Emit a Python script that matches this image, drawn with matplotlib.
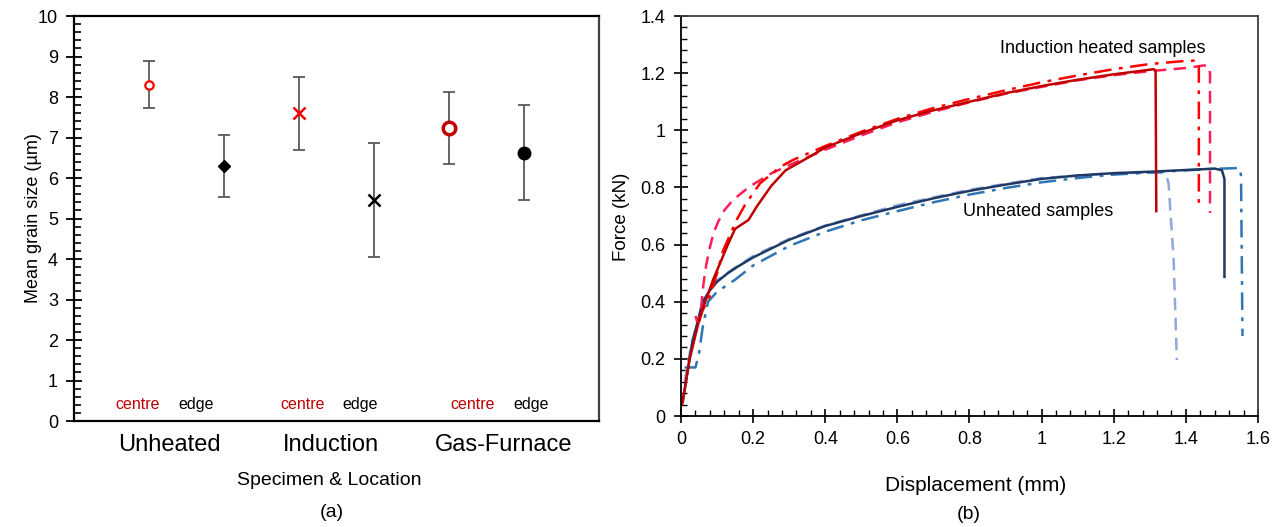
import matplotlib.pyplot as plt
from matplotlib.ticker import MultipleLocator

plt.rcParams['font.family'] = ['Liberation Sans', 'DejaVu Sans']

# (a) mean grain size
groups = ['Unheated', 'Induction', 'Gas-Furnace']
locations = ['centre', 'edge', 'centre', 'edge', 'centre', 'edge']
grain_mean = [8.30, 6.29, 7.60, 5.46, 7.23, 6.63]
grain_err = [0.58, 0.76, 0.90, 1.41, 0.89, 1.18]

# (b) force-displacement curves
red_solid_x = [0.003, 0.024, 0.053, 0.09, 0.13, 0.15, 0.17, 0.187, 0.21, 0.25, 0.29, 0.36, 0.4,
               0.5, 0.6, 0.7, 0.8, 0.9, 1.0, 1.1, 1.2, 1.3, 1.31, 1.316, 1.318]
red_solid_y = [0.04, 0.2, 0.35, 0.48, 0.6, 0.655, 0.672, 0.686, 0.733, 0.805, 0.86, 0.91, 0.94,
               0.99, 1.035, 1.07, 1.1, 1.13, 1.155, 1.177, 1.196, 1.212, 1.214, 1.21, 0.717]
red_dash_x = [0.04, 0.045, 0.05, 0.055, 0.062, 0.07, 0.08, 0.09, 0.103, 0.12, 0.145, 0.19, 0.25,
              0.3, 0.4, 0.5, 0.6, 0.7, 0.8, 0.9, 1.0, 1.1, 1.2, 1.3, 1.4, 1.45, 1.462, 1.467, 1.467]
red_dash_y = [0.35, 0.33, 0.34, 0.37, 0.46, 0.53, 0.59, 0.64, 0.68, 0.72, 0.757, 0.803, 0.849,
              0.878, 0.932, 0.982, 1.028, 1.065, 1.098, 1.128, 1.152, 1.175, 1.193, 1.207, 1.218,
              1.227, 1.225, 1.2, 0.711]
red_dd_x = [0.05, 0.06, 0.08, 0.1, 0.117, 0.154, 0.177, 0.219, 0.275, 0.31, 0.4, 0.5, 0.6, 0.7,
            0.8, 0.9, 1.0, 1.1, 1.2, 1.3, 1.4, 1.43, 1.436, 1.436]
red_dd_y = [0.33, 0.37, 0.42, 0.5, 0.58, 0.686, 0.738, 0.814, 0.872, 0.896, 0.945, 0.995, 1.04, 1.078,
            1.11, 1.14, 1.168, 1.192, 1.214, 1.232, 1.243, 1.244, 1.235, 0.72]
navy_x = [0.005, 0.03, 0.06, 0.08, 0.1, 0.13, 0.16, 0.2, 0.3, 0.4, 0.5, 0.6, 0.7, 0.8, 0.9, 1.0,
          1.1, 1.2, 1.3, 1.4, 1.48, 1.5, 1.507, 1.507]
navy_y = [0.05, 0.25, 0.4, 0.44, 0.47, 0.5, 0.525, 0.555, 0.617, 0.665, 0.70, 0.732, 0.762, 0.788, 0.81, 0.83,
          0.842, 0.85, 0.855, 0.861, 0.866, 0.86, 0.83, 0.487]
light_x = [0.01, 0.03, 0.06, 0.08, 0.1, 0.15, 0.2, 0.3, 0.4, 0.6, 0.8, 1.0, 1.2, 1.33, 1.345,
           1.352, 1.358, 1.366, 1.375]
light_y = [0.12, 0.26, 0.39, 0.44, 0.475, 0.52, 0.56, 0.62, 0.667, 0.738, 0.792, 0.833, 0.85, 0.852, 0.845,
           0.815, 0.7, 0.55, 0.196]
blue_dd_x = [0.01, 0.04, 0.05, 0.06, 0.075, 0.1, 0.15, 0.2, 0.3, 0.4, 0.5, 0.6, 0.7, 0.8, 0.9, 1.0,
             1.1, 1.2, 1.3, 1.4, 1.5, 1.55, 1.553, 1.557]
blue_dd_y = [0.17, 0.17, 0.22, 0.31, 0.4, 0.435, 0.477, 0.527, 0.595, 0.645, 0.685, 0.717, 0.748, 0.775,
             0.798, 0.818, 0.833, 0.845, 0.852, 0.86, 0.866, 0.868, 0.84, 0.28]

fig = plt.figure(figsize=(12.83, 5.27), dpi=100)
ax1 = fig.add_axes([0.0577, 0.2011, 0.4092, 0.7685])
ax2 = fig.add_axes([0.5308, 0.2106, 0.4497, 0.759])

# ---- panel (a)
xpos = [1, 2, 3, 4, 5, 6]
ax1.errorbar(xpos, grain_mean, yerr=grain_err, fmt='none', ecolor='#595959',
             elinewidth=1.3, capsize=4, capthick=1.3, zorder=2)
styles = [
    dict(marker='o', ms=6, mfc='white', mec='#FF0000', mew=1.6),
    dict(marker='D', ms=6, mfc='black', mec='black'),
    dict(marker='x', ms=9, mec='#FF0000', mew=1.8),
    dict(marker='x', ms=9, mec='black', mew=1.8),
    dict(marker='o', ms=9, mfc='white', mec='#C00000', mew=2.5),
    dict(marker='o', ms=9, mfc='black', mec='black'),
]
for x, y, st in zip(xpos, grain_mean, styles):
    ax1.plot([x], [y], linestyle='none', zorder=3, **st)

ax1.set_xlim(0, 7)
ax1.set_ylim(0, 10)
ax1.set_xticks([])
ax1.yaxis.set_major_locator(MultipleLocator(1))
ax1.yaxis.set_minor_locator(MultipleLocator(0.2))
ax1.tick_params(axis='y', which='major', direction='inout', length=11, width=1.3,
                labelsize=13, pad=6)
ax1.tick_params(axis='y', which='minor', direction='in', length=5, width=1.2)
for s in ax1.spines.values():
    s.set_linewidth(1.6)
ax1.spines['top'].set_color('black')
ax1.spines['right'].set_color('#404040')

centre_x = [0.853, 3.053, 5.32]
edge_x = [1.627, 3.813, 6.093]
for cx, ex in zip(centre_x, edge_x):
    ax1.text(cx, 0.4, 'centre', color='#C00000', fontsize=11.5, ha='center', va='center')
    ax1.text(ex, 0.4, 'edge', color='black', fontsize=11.5, ha='center', va='center')

group_x = [1.27, 3.43, 5.73]
for gx, g in zip(group_x, groups):
    ax1.text(gx, -0.059, g, transform=ax1.get_xaxis_transform(), fontsize=17,
             ha='center', va='center')
ax1.text(0.487, -0.146, 'Specimen & Location', transform=ax1.transAxes, fontsize=14,
         ha='center', va='center')
ax1.text(0.491, -0.227, '(a)', transform=ax1.transAxes, fontsize=14, ha='center', va='center')
ax1.set_ylabel('Mean grain size (µm)', fontsize=13)
ax1.yaxis.set_label_coords(-0.061, 0.5)

# ---- panel (b)
ax2.plot(light_x, light_y, color='#8EA9DB', lw=1.8, ls=(0, (5, 3)))
ax2.plot(blue_dd_x, blue_dd_y, color='#2E75B6', lw=1.8, ls=(0, (7, 3, 1.5, 3)))
ax2.plot(navy_x, navy_y, color='#1F3864', lw=1.8)
ax2.plot(red_dash_x, red_dash_y, color='#FF1E5A', lw=1.8, ls=(0, (5, 3)))
ax2.plot(red_dd_x, red_dd_y, color='#FF0000', lw=1.8, ls=(0, (7, 3, 1.5, 3)))
ax2.plot(red_solid_x, red_solid_y, color='#C00000', lw=1.8)

ax2.set_xlim(0, 1.6)
ax2.set_ylim(0, 1.4)
ax2.xaxis.set_major_locator(MultipleLocator(0.2))
ax2.xaxis.set_minor_locator(MultipleLocator(0.04))
ax2.yaxis.set_major_locator(MultipleLocator(0.2))
ax2.yaxis.set_minor_locator(MultipleLocator(0.04))
ax2.xaxis.set_major_formatter(plt.FuncFormatter(lambda v, p: f'{v:g}'))
ax2.yaxis.set_major_formatter(plt.FuncFormatter(lambda v, p: f'{v:g}'))
ax2.tick_params(which='major', direction='inout', length=10, width=1.2, labelsize=13, pad=6)
ax2.tick_params(which='minor', direction='in', length=4, width=1.0)
for s in ax2.spines.values():
    s.set_linewidth(1.3)
ax2.spines['top'].set_color('#404040')
ax2.spines['right'].set_color('#404040')

ax2.text(1.17, 1.288, 'Induction heated samples', fontsize=13, ha='center', va='center')
ax2.text(0.99, 0.717, 'Unheated samples', fontsize=13, ha='center', va='center')
ax2.text(0.511, -0.1725, 'Displacement (mm)', transform=ax2.transAxes, fontsize=15,
         ha='center', va='center')
ax2.text(0.499, -0.245, '(b)', transform=ax2.transAxes, fontsize=14, ha='center', va='center')
ax2.set_ylabel('Force (kN)', fontsize=13.5)
ax2.yaxis.set_label_coords(-0.088, 0.497)

fig.savefig('out.png', dpi=100)
